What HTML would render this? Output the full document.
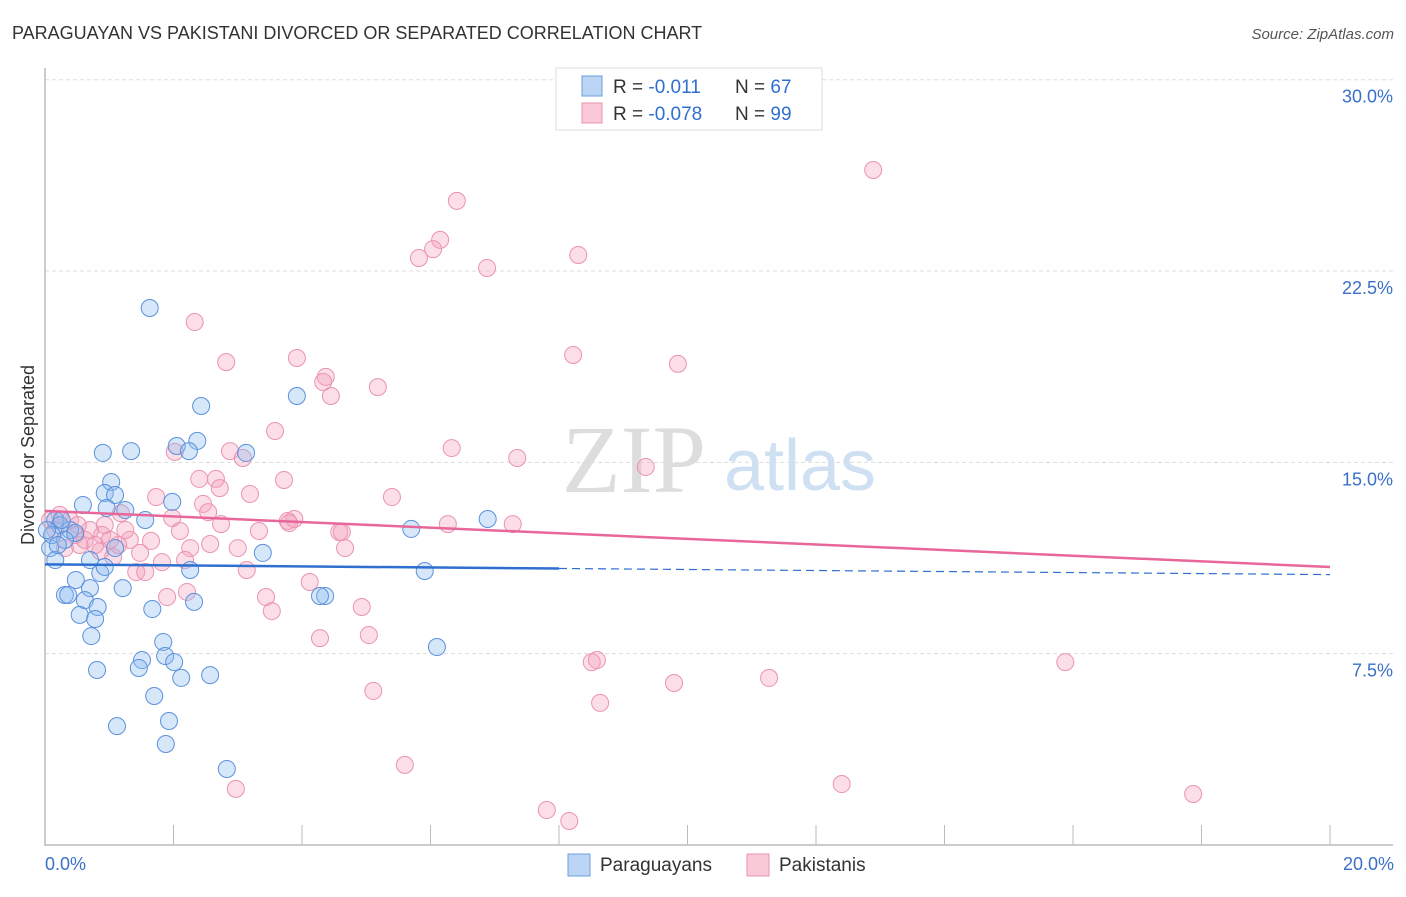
<!DOCTYPE html>
<html><head><meta charset="utf-8"><style>
body{margin:0;background:#fff;font-family:"Liberation Sans",sans-serif;}
</style></head><body>
<svg id="chart" width="1406" height="892" xmlns="http://www.w3.org/2000/svg">
<text x="12" y="39" font-size="18" fill="#333">PARAGUAYAN VS PAKISTANI DIVORCED OR SEPARATED CORRELATION CHART</text>
<text x="1394" y="39" font-size="15" fill="#555" text-anchor="end" font-style="italic">Source: ZipAtlas.com</text>
<g id="grid"></g>
<text x="634" y="492" font-size="96" fill="#ddd" font-family="Liberation Serif,serif" text-anchor="middle">ZIP</text>
<text x="800" y="490" font-size="72" fill="#cfe0f3" text-anchor="middle">atlas</text>
<g id="marks"></g>
<text transform="translate(34,455) rotate(-90)" font-size="18" fill="#333" text-anchor="middle">Divorced or Separated</text>
<text x="45" y="870" font-size="18" fill="#3a70c8">0.0%</text>
<text x="1394" y="870" font-size="18" fill="#3a70c8" text-anchor="end">20.0%</text>
<g>
<rect x="556" y="68" width="266" height="62" fill="#fff" stroke="#ddd"/>
<rect x="582" y="76" width="20" height="20" fill="#bcd5f5" stroke="#6d9ee0"/>
<rect x="582" y="103" width="20" height="20" fill="#f9c9d8" stroke="#eb93b0"/>
<text x="613" y="93" font-size="19" fill="#333">R = <tspan fill="#2f6fd0">-0.011</tspan><tspan x="735">N = </tspan><tspan fill="#2f6fd0">67</tspan></text>
<text x="613" y="120" font-size="19" fill="#333">R = <tspan fill="#2f6fd0">-0.078</tspan><tspan x="735">N = </tspan><tspan fill="#2f6fd0">99</tspan></text>
</g>
<g>
<rect x="568" y="854" width="22" height="22" fill="#bcd5f5" stroke="#6d9ee0"/>
<text x="600" y="871" font-size="19" fill="#333">Paraguayans</text>
<rect x="747" y="854" width="22" height="22" fill="#f9c9d8" stroke="#eb93b0"/>
<text x="779" y="871" font-size="19" fill="#333">Pakistanis</text>
</g>
</svg>
<script>
const yTicks=[7.5,15,22.5,30];
const yTickLabels=["7.5%","15.0%","22.5%","30.0%"];
const xTicks=[2,4,6,8,10,12,14,16,18,20];
const bluePx=[[150,308],[201,406],[297,396],[103,453],[131,451],[177,446],[197,441],[189,451],[246,453],[111,482],[83,505],[105,493],[115,495],[107,508],[125,510],[145,520],[172,502],[411,529],[488,519],[55,520],[60,525],[70,530],[75,533],[50,548],[55,560],[65,540],[115,548],[263,553],[90,560],[100,573],[105,567],[190,570],[76,580],[90,588],[65,595],[68,595],[85,600],[98,607],[123,588],[152,609],[194,602],[80,615],[95,619],[91,636],[325,596],[320,596],[425,571],[163,642],[165,656],[142,660],[174,662],[97,670],[139,668],[181,678],[210,675],[154,696],[437,647],[169,721],[117,726],[166,744],[227,769],[52,535],[58,545],[47,530],[62,520]];
const pinkPx=[[873,170],[457,201],[440,240],[433,249],[419,258],[578,255],[487,268],[195,322],[226,362],[297,358],[573,355],[678,364],[326,377],[323,382],[378,387],[331,396],[275,431],[452,448],[175,452],[230,451],[243,458],[517,458],[646,467],[199,479],[216,479],[284,480],[220,488],[250,494],[392,497],[156,497],[203,504],[208,512],[121,513],[172,518],[221,524],[448,524],[513,524],[288,521],[294,519],[289,523],[339,532],[342,532],[259,531],[105,525],[102,535],[180,531],[130,540],[151,541],[210,544],[238,548],[345,548],[190,548],[140,553],[162,562],[185,560],[113,557],[118,545],[136,572],[247,570],[100,551],[145,572],[310,582],[167,597],[187,592],[266,597],[362,607],[272,611],[320,638],[369,635],[592,662],[597,660],[1065,662],[674,683],[769,678],[373,691],[600,703],[405,765],[236,789],[842,784],[547,810],[569,821],[1193,794],[60,515],[70,520],[75,535],[80,545],[55,530],[65,548],[85,540],[90,530],[95,545],[50,520],[78,525],[110,540],[125,530]];
// convert read pixel positions into data values (x %, y %)
const blueX=bluePx.map(p=>+((p[0]-45)/64.25).toFixed(2));
const blueY=bluePx.map(p=>+((845-p[1])/25.51).toFixed(2));
const pinkX=pinkPx.map(p=>+((p[0]-45)/64.25).toFixed(2));
const pinkY=pinkPx.map(p=>+((845-p[1])/25.51).toFixed(2));
const blueTrend=[11.0,10.6];
const pinkTrend=[13.1,10.9];
const X=v=>45+v*64.25, Y=v=>845-v*25.51;
const NS="http://www.w3.org/2000/svg";
function mk(t,a,p){const e=document.createElementNS(NS,t);for(const k in a)e.setAttribute(k,a[k]);p.appendChild(e);return e;}
const g=document.getElementById('grid'), m=document.getElementById('marks');
yTicks.forEach((v,i)=>{
 const l=mk('line',{x1:45,x2:1393,y1:Y(v),y2:Y(v),stroke:'#ddd','stroke-dasharray':'4,3'},g);
 
 
 const t=mk('text',{x:1393,y:Y(v)+23,'font-size':18,fill:'#3a70c8','text-anchor':'end'},g);
 t.textContent=yTickLabels[i];
 
 
});
xTicks.forEach(v=>{
 const l=mk('line',{x1:X(v),x2:X(v),y1:825,y2:845,stroke:'#bbb'},g);
 
 
});
const ax=mk('path',{d:'M45 68 V845 H1393',fill:'none',stroke:'#bbb','stroke-width':1.5},g);


pinkX.forEach((x,i)=>{
 const c=mk('circle',{cx:X(x),cy:Y(pinkY[i]),r:8.5,fill:'rgba(244,160,190,0.35)',stroke:'#eb93b0','stroke-width':1},m);
 
 
});
blueX.forEach((x,i)=>{
 const c=mk('circle',{cx:X(x),cy:Y(blueY[i]),r:8.5,fill:'rgba(140,185,240,0.35)',stroke:'#5b91dc','stroke-width':1},m);
 
 
});
const bs=blueTrend[0], be=blueTrend[1], bm=bs+(be-bs)*(8/20);
let l=mk('line',{x1:X(0),y1:Y(bs),x2:X(8),y2:Y(bm),stroke:'#2f6fd0','stroke-width':2.5},m);


l=mk('line',{x1:X(8),y1:Y(bm),x2:X(20),y2:Y(be),stroke:'#2f6fd0','stroke-width':1.2,'stroke-dasharray':'8,5'},m);


l=mk('line',{x1:X(0),y1:Y(pinkTrend[0]),x2:X(20),y2:Y(pinkTrend[1]),stroke:'#e8679a','stroke-width':2.5},m);


</script>
</body></html>
